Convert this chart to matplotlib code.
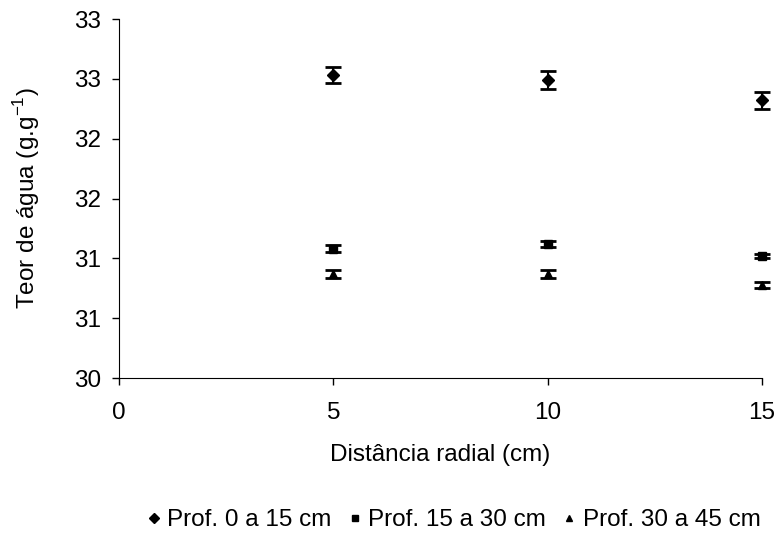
import matplotlib
matplotlib.use("Agg")
import matplotlib.pyplot as plt
from matplotlib.lines import Line2D

plt.rcParams['font.family'] = ['Liberation Sans', 'DejaVu Sans']

distancia = [5, 10, 15]
prof_0_15 = [32.53, 32.49, 32.32]
err_0_15 = [0.068, 0.072, 0.068]
prof_15_30 = [31.08, 31.12, 31.02]
err_15_30 = [0.03, 0.025, 0.02]
prof_30_45 = [30.87, 30.87, 30.78]
err_30_45 = [0.03, 0.03, 0.025]

y_ticks = [30, 30.5, 31, 31.5, 32, 32.5, 33]
y_labels = ['30', '31', '31', '32', '32', '33', '33']
x_ticks = [0, 5, 10, 15]

fig = plt.figure(figsize=(7.83, 5.44), dpi=100)
ax = fig.add_axes([0.152, 0.305, 0.821, 0.66])

series = [
    (prof_0_15, err_0_15, 'D', 'Prof. 0 a 15 cm'),
    (prof_15_30, err_15_30, 's', 'Prof. 15 a 30 cm'),
    (prof_30_45, err_30_45, '^', 'Prof. 30 a 45 cm'),
]
handles = []
for vals, errs, mk, lab in series:
    ax.errorbar(distancia, vals, yerr=errs, fmt=mk, color='black', ms=6,
                capsize=5.5, capthick=2, elinewidth=1.5, clip_on=False)
    handles.append(Line2D([], [], marker=mk, color='black', ls='none', ms=5, label=lab))

ax.set_xlim(0, 15)
ax.set_ylim(30, 33)
ax.set_xticks(x_ticks)
ax.set_yticks(y_ticks)
ax.set_yticklabels(y_labels)
ax.tick_params(labelsize=17.5, direction='out', length=5, width=1)
ax.tick_params(axis='x', pad=12)
ax.tick_params(axis='y', pad=8)
ax.spines['top'].set_visible(False)
ax.spines['right'].set_visible(False)
ax.set_xlabel('Distância radial (cm)', fontsize=17.5)
ax.set_ylabel('Teor de água (g.g$^{\\mathregular{-1}}$)', fontsize=17.5)
ax.xaxis.set_label_coords(0.5, -0.183)
ax.yaxis.set_label_coords(-0.12, 0.5)

fig.legend(handles=handles, loc='center', bbox_to_anchor=(0.58, 0.044), ncol=3,
           frameon=False, fontsize=17.5, handlelength=0.5, handletextpad=0.3,
           columnspacing=0.7)

fig.savefig('out.png', dpi=100)
